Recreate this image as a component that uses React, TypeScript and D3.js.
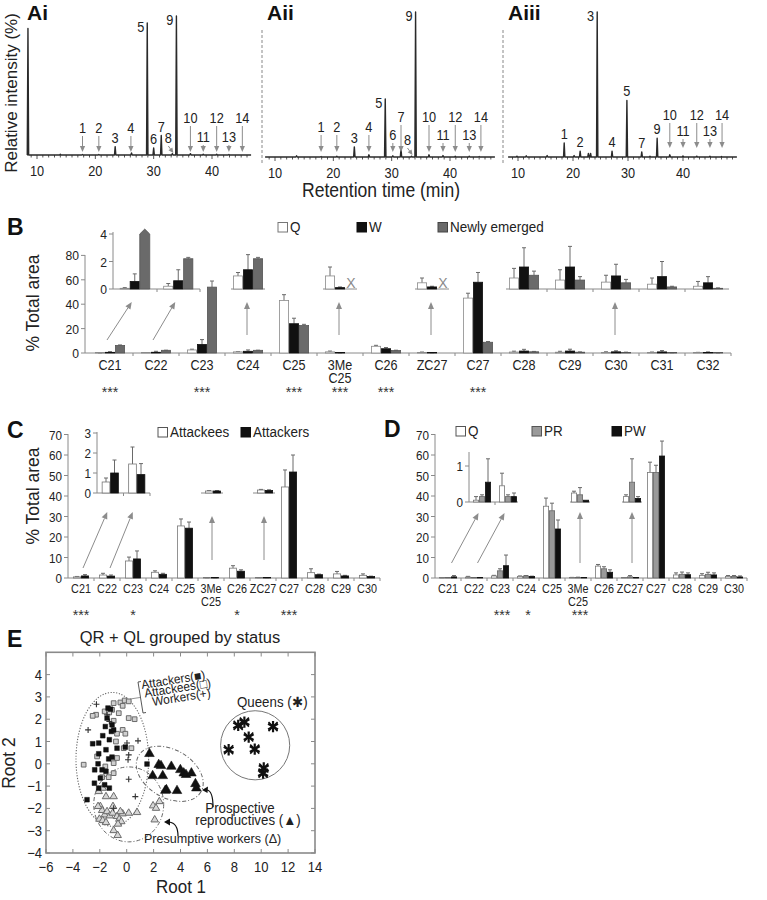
import React from 'react';
import * as d3 from 'd3';

const FONT = '"Liberation Sans", Arial, Helvetica, sans-serif';

// ---------------- Panel A data (retention time min, relative intensity %)
const chromTicks = [10, 20, 30, 40];
const peaksAi: [number, number][] = [
  [8.45, 91], [14.0, 0.5], [17.8, 0.4], [20.6, 0.4], [23.4, 6], [26.2, 1.5], [28.9, 95], [30.0, 5],
  [31.3, 14], [33.2, 1], [33.9, 100], [36.3, 1], [38.5, 0.6], [40.8, 0.6], [42.9, 0.4],
];
const peaksAii: [number, number][] = [
  [13.7, 0.8], [17.9, 0.3], [20.6, 0.5], [23.6, 7], [26.1, 1.5], [28.9, 40], [30.2, 0.8], [31.6, 5.5],
  [33.4, 0.6], [34.1, 100], [36.4, 1.5], [38.8, 1], [40.9, 0.5], [43.3, 0.5], [45.0, 0.3],
];
const peaksAiii: [number, number][] = [
  [9.8, 0.6], [11.5, 0.8], [15.3, 1], [18.4, 9.7], [20.2, 1], [21.3, 4], [22.8, 2.5], [23.2, 2.5],
  [24.4, 100], [27.1, 4], [29.8, 39], [32.5, 3.5], [34.0, 0.5], [35.3, 13], [37.6, 1.5], [40.0, 0.7],
  [42.5, 0.6], [44.9, 0.5], [47.0, 0.4],
];
// [compound number, retention time, label style]
const labelsAi: [number, number, string][] = [
  [1, 17.8, 'M'], [2, 20.6, 'M'], [3, 23.4, 'P'], [4, 26.1, 'M'], [5, 28.9, 'E'], [6, 30.0, 'P'], [7, 31.3, 'P'],
  [8, 33.2, 'D'], [9, 33.9, 'E'], [10, 36.3, 'L'], [11, 38.5, 'S'], [12, 40.8, 'L'], [13, 42.9, 'S'], [14, 45.2, 'L'],
];
const labelsAii: [number, number, string][] = [
  [1, 17.9, 'M'], [2, 20.6, 'M'], [3, 23.6, 'P'], [4, 26.1, 'M'], [5, 28.9, 'E'], [6, 30.2, 'S'], [7, 31.6, 'L'],
  [8, 33.4, 'D'], [9, 34.1, 'E'], [10, 36.4, 'L'], [11, 38.8, 'S'], [12, 40.9, 'L'], [13, 43.3, 'S'], [14, 45.3, 'L'],
];
const labelsAiii: [number, number, string][] = [
  [1, 18.4, 'P'], [2, 21.3, 'P'], [3, 24.4, 'E'], [4, 27.1, 'P'], [5, 29.8, 'P'], [7, 32.5, 'P'], [9, 35.3, 'P'],
  [10, 37.6, 'L'], [11, 40.0, 'S'], [12, 42.5, 'L'], [13, 44.9, 'S'], [14, 47.1, 'L'],
];

// ---------------- Panel B data
const catsB = ['C21', 'C22', 'C23', 'C24', 'C25', '3Me C25', 'C26', 'ZC27', 'C27', 'C28', 'C29', 'C30', 'C31', 'C32'];
const bQ = [0.05, 0.2, 2.5, 0.95, 43, 0.95, 5.5, 0.45, 45, 0.8, 0.65, 0.5, 0.35, 0.2];
const bQe = [0.05, 0.2, 0.6, 0.25, 4.8, 0.65, 0.8, 0.35, 4, 0.7, 0.75, 0.5, 0.45, 0.35];
const bW = [0.55, 0.6, 7, 1.4, 24, 0.1, 3.5, 0.15, 58, 1.6, 1.6, 0.95, 0.9, 0.45];
const bWe = [0.55, 0.8, 4, 1.1, 4.5, 0.05, 1, 0.05, 8, 1.4, 1.5, 0.85, 1.1, 0.45];
const bNE = [6.2, 2.2, 54, 2.2, 22.5, null, 2, null, 8.8, 1.0, 0.65, 0.45, 0.15, 0.05];
const bNEe = [0.4, 0.1, 5, 0.1, 1, 0, 0.3, 0, 0.6, 0.3, 0.25, 0.25, 0.05, 0.03];
const sigB = ['***', '', '***', '', '***', '***', '***', '', '***', '', '', '', '', ''];
const ticksB = [0, 20, 40, 60, 80];
const ticksBInset = [0, 2, 4];
const insetB1 = ['C21', 'C22'];
const insetB2 = ['C24', '3Me C25', 'ZC27'];
const insetB3 = ['C28', 'C29', 'C30', 'C31', 'C32'];
const arrowsBVert = ['C24', '3Me C25', 'ZC27', 'C30'];

// ---------------- Panels C, D data
const catsCD = ['C21', 'C22', 'C23', 'C24', 'C25', '3Me C25', 'C26', 'ZC27', 'C27', 'C28', 'C29', 'C30'];
const cAttackees = [0.55, 1.45, 8.3, 2.8, 25.4, 0.1, 4.8, 0.15, 44.4, 2.6, 2.0, 1.3];
const cAttackeesE = [0.2, 0.85, 1.9, 0.7, 3.4, 0.02, 1.2, 0.03, 8.3, 1.9, 1.2, 0.7];
const cAttackers = [1.0, 0.92, 9.3, 1.8, 24.3, 0.1, 3.3, 0.13, 51.7, 1.6, 1.0, 0.7];
const cAttackersE = [0.65, 0.55, 3.9, 0.5, 3.0, 0.02, 0.7, 0.03, 8.3, 0.3, 0.3, 0.2];
const sigC = ['***', '', '*', '', '', '', '*', '', '***', '', '', ''];
const dQ = [0.05, 0.45, 1.0, 0.8, 35, 0.25, 5.8, 0.15, 51.5, 1.5, 1.3, 0.8];
const dQe = [0.1, 0.35, 0.3, 0.2, 4, 0.05, 0.8, 0.05, 5, 1, 0.8, 0.4];
const dPR = [0.15, 0.15, 3.5, 1.0, 32.8, 0.2, 4.5, 0.55, 51.5, 1.8, 1.8, 0.8];
const dPRe = [0.05, 0.05, 1, 0.2, 3.7, 0.2, 1, 0.65, 3.5, 1.1, 1, 0.4];
const dPW = [0.55, 0.15, 6.0, 0.7, 23.9, 0.05, 2.8, 0.1, 59.5, 1.6, 1.5, 0.5];
const dPWe = [0.65, 0.1, 5.2, 0.2, 4.4, 0, 1.2, 0.05, 7.3, 0.9, 1, 0.5];
const sigD = ['', '', '***', '*', '', '***', '', '', '', '', '', ''];
const ticksCD = [0, 10, 20, 30, 40, 50, 60, 70];
const ticksCInset = [0, 1, 2, 3];
const ticksDInset = [0, 1];
const insetCD1 = ['C21', 'C22'];
const insetCD2 = ['3Me C25', 'ZC27'];

// ---------------- Panel E data (Root 1, Root 2)
const attackers: [number, number][] = [
  [-1.39, 2.5], [-1.46, 2.05], [-1.59, 1.67], [-1.09, 1.75], [-1.14, 1.45], [-1.78, 1.26], [-0.97, 1.52],
  [-1.29, 1.08], [-2.08, 0.93], [-2.53, 0.9], [-1.54, 0.63], [-1.09, 0.3], [-0.72, 0.7], [-1.34, 0.22],
  [-2.08, 0.45], [-1.83, -0.27], [-1.54, -0.34], [-2.38, -0.27], [-2.4, -0.87], [-2.08, -1.09], [-2.95, -1.61],
  [-1.64, -0.94], [-1.29, -1.09], [-0.1, 0.75], [1.51, -0.01], [-1.96, -0.64], [-2.13, 0.0], [-1.2, 2.45],
];
const attackees: [number, number][] = [
  [-0.97, 2.72], [-0.47, 2.75], [-0.15, 2.84], [-0.3, 2.6], [0.15, 2.8], [-1.09, 2.42], [-1.64, 2.35],
  [-2.28, 2.2], [-2.53, 2.15], [-0.59, 2.27], [0.15, 2.05], [0.59, 2.0], [-0.97, 1.93], [-0.3, 1.52],
  [-0.72, 1.35], [-0.1, 1.35], [-0.8, 1.0], [-0.22, 0.7], [0.35, 0.7], [-3.2, -0.04], [-1.59, -0.12],
  [-0.97, 0.03], [-1.34, -0.6], [-0.97, -0.42], [-1.83, -0.6], [-2.2, 0.33], [-0.72, 0.26], [-1.3, 2.3],
];
const workers: [number, number][] = [
  [-2.25, 2.67], [-2.87, 1.52], [-1.29, 1.9], [0.02, 0.93], [0.84, 1.03], [0.15, 0.4], [0.1, 0.18],
  [0.15, -0.69], [0.64, -1.47], [-0.97, -1.99], [-1.46, 2.2],
];
const presumptive: [number, number][] = [
  [-2.08, -1.24], [-1.78, -1.09], [-1.54, -1.47], [-0.97, -1.47], [-1.96, -1.91], [-1.83, -2.09],
  [-1.64, -2.29], [-1.46, -2.14], [-1.26, -2.33], [-1.04, -2.21], [-2.03, -2.48], [-1.78, -2.54],
  [-1.54, -2.63], [-0.72, -2.36], [-0.55, -2.48], [-0.4, -2.59], [-0.3, -2.24], [0.15, -2.21],
  [0.77, -2.18], [-0.97, -2.99], [-0.67, -3.21], [1.96, -1.88], [2.18, -1.99], [2.43, -1.69],
  [2.08, -2.51], [-1.02, -1.91], [-0.47, -2.14], [-0.65, -2.7], [-2.13, -1.91],
];
const prospective: [number, number][] = [
  [1.69, 0.45], [2.38, -0.04], [2.55, -0.09], [1.93, -0.54], [2.68, -0.54], [3.32, -0.12], [2.95, -1.17],
  [2.87, -1.2], [3.74, -1.21], [3.99, -0.27], [4.24, -0.42], [4.41, -0.49], [4.81, -0.42], [5.11, -0.9],
  [5.18, -1.09],
];
const queens: [number, number][] = [
  [7.58, 0.63], [8.29, 1.72], [8.75, 1.87], [9.07, 1.2], [9.52, 0.66], [10.19, -0.19], [10.14, -0.42], [10.88, 1.67],
];
const ticksEx = [-6, -4, -2, 0, 2, 4, 6, 8, 10, 12, 14];
const ticksEy = [-4, -3, -2, -1, 0, 1, 2, 3, 4];
// group ellipses: centre, radii (data units), rotation (deg)
const ellipsesE = [
  { cx: -1.07, cy: 0.2, rx: 2.7, ry: 3.0, angle: 0, dash: '1.2,1.6' },
  { cx: 0.15, cy: -1.82, rx: 2.6, ry: 1.68, angle: 0, dash: '4,2,1,2' },
  { cx: 3.2, cy: -0.45, rx: 2.68, ry: 1.08, angle: 30, dash: '4,2,1,2' },
  { cx: 9.55, cy: 0.83, rx: 2.57, ry: 1.55, angle: 0, dash: '' },
];

// ---------------- helpers
function T({ x, y, s = 14, a = 'middle', sx = 0.9, w = 400, f = '#222', r = 0, children }: any) {
  return (
    <text transform={`translate(${x},${y}) rotate(${r}) scale(${sx},1)`} fontSize={s} textAnchor={a}
      fontWeight={w} fill={f} fontFamily={FONT}>{children}</text>
  );
}

function Arrow({ x1, y1, x2, y2, color = '#8c8c8c', head = 6, hw = 2.8, sw = 1 }: any) {
  const a = Math.atan2(y2 - y1, x2 - x1);
  const bx = x2 - head * Math.cos(a), by = y2 - head * Math.sin(a);
  const px = -Math.sin(a) * hw, py = Math.cos(a) * hw;
  return (
    <g>
      <line x1={x1} y1={y1} x2={bx} y2={by} stroke={color} strokeWidth={sw} />
      <path d={`M${x2},${y2}L${bx + px},${by + py}L${bx - px},${by - py}Z`} fill={color} />
    </g>
  );
}

// ---------------- Panel A
const chromPanels = [
  { name: 'Ai', x10: 37, x40: 212, t0: 8.3, t1: 46.7, yb: 155, ytop: 16, peaks: peaksAi, labels: labelsAi, h: { L: 32, M: 22, S: 13 }, ae: 3, nameX: 27 },
  { name: 'Aii', x10: 275, x40: 450, t0: 8.3, t1: 47.7, yb: 157, ytop: 12, peaks: peaksAii, labels: labelsAii, h: { L: 35, M: 25, S: 17 }, ae: 5, nameX: 267 },
  { name: 'Aiii', x10: 518, x40: 683, t0: 8.2, t1: 49.8, yb: 157, ytop: 12, peaks: peaksAiii, labels: labelsAiii, h: { L: 37, M: 25, S: 21 }, ae: 9, nameX: 508 },
];

function Chrom({ p }: any) {
  const x = d3.scaleLinear([10, 40], [p.x10, p.x40]);
  const y = d3.scaleLinear([0, 100], [p.yb, p.ytop]);
  const pts: [number, number][] = [[p.t0, 0]];
  [...p.peaks].sort((a: any, b: any) => a[0] - b[0]).forEach(([t, v]: any) => {
    pts.push([t - 0.12, 0], [t, v], [t + 0.12, 0]);
  });
  pts.push([p.t1, 0]);
  const line = d3.line<[number, number]>().x(d => x(d[0])).y(d => y(d[1]));
  const minor = d3.range(Math.ceil(p.t0), p.t1, 1);
  const nearest = (t: number) => p.peaks.reduce((b: any, q: any) => (Math.abs(q[0] - t) < Math.abs(b[0] - t) ? q : b));
  return (
    <g>
      <T x={p.nameX} y={20} s={21} a="start" sx={1} w={700} f="#111">{p.name}</T>
      {minor.map((t: number) => (
        <line key={t} x1={x(t)} x2={x(t)} y1={p.yb} y2={p.yb + (t % 10 === 0 ? 4 : 2.5)} stroke="#555" strokeWidth={1} />
      ))}
      <path d={line(pts) as string} fill="none" stroke="#2a2a2a" strokeWidth={1.4} strokeLinejoin="round" />
      {chromTicks.map(t => (
        <T key={t} x={x(t)} y={p.yb + 21} s={14.5} sx={0.88}>{t}</T>
      ))}
      {p.labels.map(([n, t, k]: any) => {
        const xx = x(t);
        if (k === 'L' || k === 'M' || k === 'S') {
          const ty = p.yb - p.h[k];
          return (
            <g key={n}>
              <T x={xx} y={ty} s={14.5} sx={0.88}>{n}</T>
              <Arrow x1={xx} y1={ty + 3} x2={xx} y2={p.yb - p.ae} head={6} hw={2.6} />
            </g>
          );
        }
        if (k === 'D') {
          return (
            <g key={n}>
              <T x={xx - 4} y={p.yb - 12} s={14.5} sx={0.88}>{n}</T>
              <Arrow x1={xx - 4} y1={p.yb - 9} x2={xx + 1} y2={p.yb - 2} head={5} hw={2.4} />
            </g>
          );
        }
        const pk = nearest(t);
        if (k === 'P') return <T key={n} x={xx} y={y(pk[1]) - 4} s={14.5} sx={0.88}>{n}</T>;
        return <T key={n} x={xx - 3} y={y(pk[1]) + 9} s={14.5} sx={0.88} a="end">{n}</T>;
      })}
    </g>
  );
}

function PanelA() {
  return (
    <g>
      {chromPanels.map(p => <Chrom key={p.name} p={p} />)}
      <line x1={262} x2={262} y1={30} y2={165} stroke="#888" strokeDasharray="3,2" />
      <line x1={503} x2={503} y1={30} y2={165} stroke="#888" strokeDasharray="3,2" />
      <T x={17} y={93} s={17} sx={1} r={-90}>Relative intensity (%)</T>
      <T x={381} y={197} s={19.5} sx={0.9}>Retention time (min)</T>
    </g>
  );
}

// ---------------- generic bar drawing
function drawBars(key: string, cats: string[], allCats: string[], series: any[], cx: (c: string) => number, y: any, bw: number, clipMax?: number, showX = false) {
  const out: any[] = [];
  const n = series.length;
  cats.forEach(c => {
    const i = allCats.indexOf(c);
    series.forEach((s: any, j: number) => {
      const v = s.v[i];
      const x0 = cx(c) + (j - n / 2) * bw;
      if (v == null) {
        if (showX) out.push(<T key={`${key}x${c}${j}`} x={x0 + bw / 2 + 1} y={y(0) - 1} s={14} sx={1} f="#8a8a8a">X</T>);
        return;
      }
      if (clipMax != null && v > clipMax) {
        const yt = y(clipMax), yp = y(clipMax * 1.09);
        out.push(<path key={`${key}b${c}${j}`} d={`M${x0},${y(0)}V${yt}L${x0 + bw / 2},${yp}L${x0 + bw},${yt}V${y(0)}Z`}
          fill={s.fill} stroke={s.stroke} strokeWidth={0.8} />);
        return;
      }
      const e = s.e[i];
      const yt = y(v);
      if (e > 0) {
        const ye = y(v + e);
        out.push(<line key={`${key}e${c}${j}`} x1={x0 + bw / 2} x2={x0 + bw / 2} y1={yt} y2={ye} stroke="#6a6a6a" strokeWidth={1} />);
        out.push(<line key={`${key}c${c}${j}`} x1={x0 + bw / 2 - 2} x2={x0 + bw / 2 + 2} y1={ye} y2={ye} stroke="#6a6a6a" strokeWidth={1} />);
      }
      out.push(<rect key={`${key}b${c}${j}`} x={x0 + 0.4} y={Math.min(yt, y(0) - 0.6)} width={bw - 0.8} height={Math.max(y(0) - yt, 0.6)}
        fill={s.fill} stroke={s.stroke} strokeWidth={0.8} />);
    });
  });
  return out;
}

function CatLabels({ cats, cx, y, s, sx, lh }: any) {
  return (
    <g>
      {cats.map((c: string) => {
        const parts = c.split(' ');
        return parts.map((p, k) => <T key={c + k} x={cx(c)} y={y + k * lh} s={s} sx={sx}>{p}</T>);
      })}
    </g>
  );
}

function Stars({ cats, sig, cx, y }: any) {
  return <g>{cats.map((c: string, i: number) => sig[i] ? <T key={c} x={cx(c)} y={y} s={15} sx={0.95} f="#333">{sig[i]}</T> : null)}</g>;
}

function Baseline({ x1, x2, y, ticks, color = '#8a8a8a' }: any) {
  return (
    <g>
      <line x1={x1} x2={x2} y1={y} y2={y} stroke={color} strokeWidth={1} />
      {ticks.map((t: number, i: number) => <line key={i} x1={t} x2={t} y1={y} y2={y + 3} stroke={color} strokeWidth={1} />)}
    </g>
  );
}

function YAxis({ x, y, ticks, top, s = 13.5, len = 4 }: any) {
  return (
    <g>
      <line x1={x} x2={x} y1={y(0)} y2={top} stroke="#8a8a8a" strokeWidth={1} />
      {ticks.map((t: number) => (
        <g key={t}>
          <line x1={x - len} x2={x} y1={y(t)} y2={y(t)} stroke="#8a8a8a" />
          <T x={x - len - 2} y={y(t) + 5} s={s} sx={0.9} a="end">{t}</T>
        </g>
      ))}
    </g>
  );
}

function LegendItem({ x, y, fill, stroke, label }: any) {
  return (
    <g>
      <rect x={x} y={y - 9.5} width={9.5} height={9.5} fill={fill} stroke={stroke} strokeWidth={1} />
      <T x={x + 12} y={y} s={14.5} sx={0.93} a="start">{label}</T>
    </g>
  );
}

// ---------------- Panel B
function PanelB() {
  const x = d3.scaleBand(catsB, [87, 731]);
  const cx = (c: string) => (x(c) as number) + x.bandwidth() / 2;
  const y = d3.scaleLinear([0, 80], [353, 255.4]);
  const yi = d3.scaleLinear([0, 4], [289, 234]);
  const xi = d3.scaleBand(insetB1, [113, 200]);
  const cxi = (c: string) => (xi(c) as number) + xi.bandwidth() / 2;
  const series = [
    { v: bQ, e: bQe, fill: '#fff', stroke: '#8a8a8a' },
    { v: bW, e: bWe, fill: '#111', stroke: '#111' },
    { v: bNE, e: bNEe, fill: '#6a6a6a', stroke: '#555' },
  ];
  const bounds = catsB.map(c => x(c) as number).concat([731]);
  const inset3Start = (x('C28') as number) + 5;
  return (
    <g>
      <T x={7} y={235} s={23} sx={1} w={700} f="#111" a="start">B</T>
      <T x={39} y={303} s={17.5} sx={1} r={-90}>% Total area</T>
      <YAxis x={85} y={y} ticks={ticksB} top={255} />
      <Baseline x1={85} x2={731} y={y(0)} ticks={bounds.slice(1)} />
      {drawBars('bm', catsB, catsB, series, cx, y, 10)}
      <CatLabels cats={catsB} cx={cx} y={370} s={14} sx={0.9} lh={13} />
      <Stars cats={catsB} sig={sigB} cx={cx} y={397} />
      {/* inset 1 */}
      <YAxis x={113} y={yi} ticks={ticksBInset} top={232} />
      <Baseline x1={113} x2={200} y={yi(0)} ticks={[157, 200]} />
      {drawBars('bi1', insetB1, catsB, series, cxi, yi, 10, 4)}
      {/* inset 2: individual */}
      {insetB2.map(c => (
        <line key={c} x1={cx(c) - 17} x2={cx(c) + 17} y1={yi(0)} y2={yi(0)} stroke="#8a8a8a" />
      ))}
      {drawBars('bi2', insetB2, catsB, series, cx, yi, 10, undefined, true)}
      {/* inset 3 */}
      <Baseline x1={inset3Start} x2={729} y={yi(0)} ticks={insetB3.slice(1).map(c => x(c) as number)} />
      {drawBars('bi3', insetB3, catsB, series, cx, yi, 10)}
      {/* arrows */}
      {insetB1.map(c => <Arrow key={c} x1={cx(c) - 3} y1={340} x2={cxi(c) - 3} y2={302} head={7} hw={3} />)}
      {arrowsBVert.map(c => <Arrow key={c} x1={cx(c) - 1} y1={335} x2={cx(c) - 1} y2={302} head={7} hw={3} />)}
      {/* legend */}
      <LegendItem x={278} y={232} fill="#fff" stroke="#777" label="Q" />
      <LegendItem x={357} y={232} fill="#111" stroke="#111" label="W" />
      <LegendItem x={438} y={232} fill="#6a6a6a" stroke="#444" label="Newly emerged" />
    </g>
  );
}

// ---------------- Panels C and D
const yCD = d3.scaleLinear([0, 70], [578, 434.5]);

function PanelC() {
  const x = d3.scaleBand(catsCD, [68, 380]);
  const cx = (c: string) => (x(c) as number) + x.bandwidth() / 2;
  const yi = d3.scaleLinear([0, 3], [493, 433]);
  const xi = d3.scaleBand(insetCD1, [97, 150]);
  const cxi = (c: string) => (xi(c) as number) + xi.bandwidth() / 2;
  const series = [
    { v: cAttackees, e: cAttackeesE, fill: '#fff', stroke: '#777' },
    { v: cAttackers, e: cAttackersE, fill: '#111', stroke: '#111' },
  ];
  const bounds = catsCD.map(c => x(c) as number).slice(1).concat([380]);
  return (
    <g>
      <T x={7} y={438} s={23} sx={1} w={700} f="#111" a="start">C</T>
      <T x={39} y={496} s={17.5} sx={1} r={-90}>% Total area</T>
      <YAxis x={68} y={yCD} ticks={ticksCD} top={434} s={13} />
      <Baseline x1={68} x2={380} y={yCD(0)} ticks={bounds} />
      {drawBars('cm', catsCD, catsCD, series, cx, yCD, 8)}
      <CatLabels cats={catsCD} cx={cx} y={593} s={13.5} sx={0.8} lh={13} />
      <Stars cats={catsCD} sig={sigC} cx={cx} y={620} />
      <YAxis x={97} y={yi} ticks={ticksCInset} top={432} s={13} />
      <Baseline x1={97} x2={150} y={yi(0)} ticks={[123.5, 150]} />
      {drawBars('ci1', insetCD1, catsCD, series, cxi, yi, 8.5)}
      {insetCD2.map(c => <line key={c} x1={cx(c) - 10} x2={cx(c) + 12} y1={yi(0)} y2={yi(0)} stroke="#8a8a8a" />)}
      {drawBars('ci2', insetCD2, catsCD, series, (c: string) => cx(c) + 2, yi, 8)}
      {insetCD1.map((c, i) => <Arrow key={c} x1={cx(c) + 2 + i} y1={568} x2={cxi(c) - 3 - i} y2={512} head={7} hw={3} />)}
      {insetCD2.map(c => <Arrow key={c} x1={cx(c) + 1} y1={560} x2={cx(c) + 1} y2={516} head={7} hw={3} />)}
      <LegendItem x={158} y={437} fill="#fff" stroke="#555" label="Attackees" />
      <LegendItem x={241} y={437} fill="#111" stroke="#111" label="Attackers" />
    </g>
  );
}

function PanelD() {
  const x = d3.scaleBand(catsCD, [435, 747]);
  const cx = (c: string) => (x(c) as number) + x.bandwidth() / 2;
  const yi = d3.scaleLinear([0, 1], [502, 466]);
  const xi = d3.scaleBand(insetCD1, [469, 521]);
  const cxi = (c: string) => (xi(c) as number) + xi.bandwidth() / 2;
  const series = [
    { v: dQ, e: dQe, fill: '#fff', stroke: '#777' },
    { v: dPR, e: dPRe, fill: '#9a9a9a', stroke: '#666' },
    { v: dPW, e: dPWe, fill: '#111', stroke: '#111' },
  ];
  const bounds = catsCD.map(c => x(c) as number).slice(1).concat([747]);
  return (
    <g>
      <T x={384} y={437} s={23} sx={1} w={700} f="#111" a="start">D</T>
      <YAxis x={435} y={yCD} ticks={ticksCD} top={434} s={13} />
      <Baseline x1={435} x2={747} y={yCD(0)} ticks={bounds} />
      {drawBars('dm', catsCD, catsCD, series, cx, yCD, 6)}
      <CatLabels cats={catsCD} cx={cx} y={593} s={13.5} sx={0.8} lh={13} />
      <Stars cats={catsCD} sig={sigD} cx={(c: string) => cx(c) + 2} y={620} />
      <YAxis x={469} y={yi} ticks={ticksDInset} top={452} s={13} />
      <Baseline x1={469} x2={518} y={yi(0)} ticks={[495]} />
      {drawBars('di1', insetCD1, catsCD, series, cxi, yi, 6)}
      {insetCD2.map(c => <line key={c} x1={cx(c) - 8} x2={cx(c) + 12} y1={yi(0)} y2={yi(0)} stroke="#8a8a8a" />)}
      {drawBars('di2', insetCD2, catsCD, series, (c: string) => cx(c) + 2, yi, 6)}
      {insetCD1.map(c => <Arrow key={c} x1={cx(c) + 3.5} y1={563} x2={cxi(c) - 3.5} y2={513} head={7} hw={3} />)}
      {insetCD2.map(c => <Arrow key={c} x1={cx(c) + 2} y1={563} x2={cx(c) + 2} y2={512} head={7} hw={3} />)}
      <LegendItem x={456} y={436} fill="#fff" stroke="#555" label="Q" />
      <LegendItem x={532} y={436} fill="#9a9a9a" stroke="#555" label="PR" />
      <LegendItem x={612} y={436} fill="#111" stroke="#111" label="PW" />
    </g>
  );
}

// ---------------- Panel E
function PanelE() {
  const x = d3.scaleLinear([-6, 14], [46, 315]);
  const y = d3.scaleLinear([-4, 5], [853, 652.3]);
  const kx = x(1) - x(0), ky = y(0) - y(1);
  const sq = d3.symbol(d3.symbolSquare, 22)() as string;
  const triF = d3.symbol(d3.symbolTriangle, 40)() as string;
  const triO = d3.symbol(d3.symbolTriangle, 24)() as string;
  const ast = d3.symbol(d3.symbolAsterisk, 90)() as string;
  const astX = d3.symbol(d3.symbolX, 55)() as string;
  const minus = (v: number) => (v < 0 ? '\u2212' + Math.abs(v) : String(v));
  return (
    <g>
      <T x={7} y={647} s={23} sx={1} w={700} f="#111" a="start">E</T>
      <T x={180} y={643} s={17} sx={0.97}>QR + QL grouped by status</T>
      <rect x={46} y={652.3} width={269} height={200.7} fill="none" stroke="#8a8a8a" strokeWidth={1.6} />
      {ticksEx.map(t => (
        <g key={t}>
          <line x1={x(t)} x2={x(t)} y1={652.3} y2={656.5} stroke="#8a8a8a" />
          <line x1={x(t)} x2={x(t)} y1={853} y2={849} stroke="#8a8a8a" />
          <T x={x(t)} y={872} s={14.5} sx={0.9}>{minus(t)}</T>
        </g>
      ))}
      {ticksEy.map(t => (
        <g key={t}>
          <line x1={46} x2={50} y1={y(t)} y2={y(t)} stroke="#8a8a8a" />
          <line x1={315} x2={311} y1={y(t)} y2={y(t)} stroke="#8a8a8a" />
          <T x={42} y={y(t) + 5} s={14.5} sx={0.9} a="end">{minus(t)}</T>
        </g>
      ))}
      <T x={181} y={893} s={17.5} sx={0.97}>Root 1</T>
      <T x={15} y={763} s={17.5} sx={1} r={-90}>Root 2</T>
      {ellipsesE.map((e, i) => (
        <ellipse key={i} cx={0} cy={0} rx={e.rx * kx} ry={e.ry * ky}
          transform={`translate(${x(e.cx)},${y(e.cy)}) rotate(${e.angle})`}
          fill="none" stroke={i === 3 ? '#777' : '#666'} strokeWidth={i === 0 ? 1.1 : 1} strokeDasharray={e.dash || undefined} />
      ))}
      {presumptive.map((d, i) => (
        <path key={'pw' + i} d={triO} transform={`translate(${x(d[0])},${y(d[1])})`} fill="#d6d6d6" stroke="#6c6c6c" strokeWidth={1} />
      ))}
      {attackees.map((d, i) => (
        <path key={'ae' + i} d={sq} transform={`translate(${x(d[0])},${y(d[1])})`} fill="#cfcfcf" stroke="#6a6a6a" strokeWidth={1} />
      ))}
      {workers.map((d, i) => (
        <path key={'w' + i} d="M-3,0H3M0,-3V3" transform={`translate(${x(d[0])},${y(d[1])})`} stroke="#333" strokeWidth={1.1} />
      ))}
      {attackers.map((d, i) => (
        <path key={'at' + i} d={sq} transform={`translate(${x(d[0])},${y(d[1])})`} fill="#111" stroke="#111" strokeWidth={0.5} />
      ))}
      {prospective.map((d, i) => (
        <path key={'pr' + i} d={triF} transform={`translate(${x(d[0])},${y(d[1])})`} fill="#111" stroke="#111" strokeWidth={0.6} />
      ))}
      {queens.map((d, i) => (
        <g key={'q' + i} transform={`translate(${x(d[0])},${y(d[1])})`}>
          <path d={ast} stroke="#111" strokeWidth={2.2} fill="none" />
          <path d={astX} stroke="#111" strokeWidth={1.6} fill="none" />
          <circle r={2.2} fill="#111" />
        </g>
      ))}
      {/* annotations */}
      <path d="M141,681.5 L138,682 L143,713 L146,712.5" fill="none" stroke="#444" strokeWidth={0.9} />
      <line x1={130} y1={699} x2={140} y2={697.5} stroke="#777" strokeWidth={0.8} />
      <T x={142} y={689} s={12.5} sx={0.95} a="start" r={-9}>Attackers(■)</T>
      <T x={145} y={697.5} s={12.5} sx={0.95} a="start" r={-9}>Attackees(□)</T>
      <T x={153} y={706} s={12.5} sx={0.95} a="start" r={-9}>Workers(+)</T>
      <T x={237} y={707} s={14} sx={0.95} a="start">Queens (✱)</T>
      <T x={240} y={813} s={14} sx={0.95}>Prospective</T>
      <T x={248} y={825} s={14} sx={0.95}>reproductives (▲)</T>
      <T x={144} y={843} s={13.5} sx={0.93} a="start">Presumptive workers (Δ)</T>
      <path d="M213,807 Q213,791 207,790" fill="none" stroke="#111" strokeWidth={1.2} />
      <path d="M202,790 L208,786.5 L207.5,793 Z" fill="#111" />
      <path d="M178,836 Q178,823 169,822" fill="none" stroke="#111" strokeWidth={1.2} />
      <path d="M164,822 L170,818.5 L170,825.5 Z" fill="#111" />
    </g>
  );
}

export default function App() {
  return (
    <svg width={767} height={900} style={{ position: 'absolute', left: 0, top: 0, background: '#fff' }} fontFamily={FONT}>
      <rect width={767} height={900} fill="#fff" />
      <PanelA />
      <PanelB />
      <PanelC />
      <PanelD />
      <PanelE />
    </svg>
  );
}
